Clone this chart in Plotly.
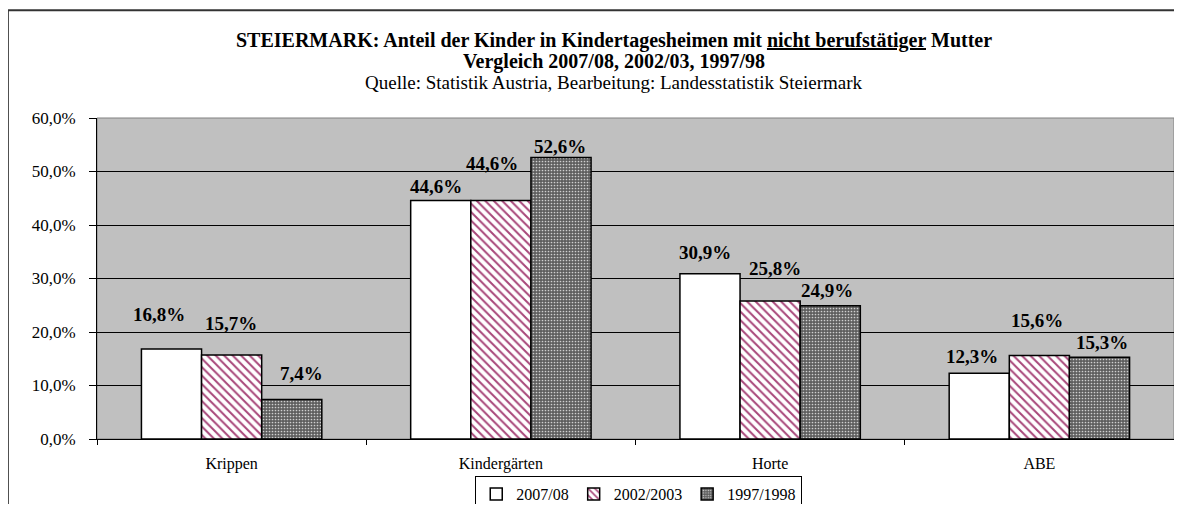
import plotly.graph_objects as go

# Categories and shares (%) per school year
categories = ["Krippen", "Kindergärten", "Horte", "ABE"]
series_names = ["2007/08", "2002/2003", "1997/1998"]
values_2007 = [16.8, 44.6, 30.9, 12.3]
values_2002 = [15.7, 44.6, 25.8, 15.6]
values_1997 = [7.4, 52.6, 24.9, 15.3]
y_ticks = [0, 10, 20, 30, 40, 50, 60]
y_tick_labels = [f"{v:.1f}".replace(".", ",") + "%" for v in y_ticks]

# label offsets in pixels (dx, dy) relative to the top of each bar, as placed in the original
label_offsets = [
    [(-12, 35), (-5, 14), (-5, 21), (-7, 17)],
    [(-1, 32), (-9, 37), (5, 32), (-2, 35)],
    [(10, 26), (-1, 11), (-3, 15), (2, 15)],
]

serif = "Liberation Serif, Times New Roman, serif"
bargap = 0.33

styles = [
    dict(color="white", pattern=dict(shape="")),
    dict(color="white", pattern=dict(shape="\\", fgcolor="#a8477a", bgcolor="white",
                                     size=6, solidity=0.33, fillmode="replace")),
    dict(color="#5e5e5e", pattern=dict(shape=".", fgcolor="#cfcfcf", bgcolor="#5e5e5e",
                                       size=3, solidity=0.25, fillmode="replace")),
]

all_values = [values_2007, values_2002, values_1997]

fig = go.Figure()
for name, vals, st in zip(series_names, all_values, styles):
    fig.add_trace(go.Bar(
        x=categories, y=vals, name=name,
        marker=dict(color=st["color"], pattern=st["pattern"],
                    line=dict(color="black", width=1.5)),
        hoverinfo="x+y",
    ))

# data labels
bar_w = (1 - bargap) / len(series_names)
for j, vals in enumerate(all_values):
    for i, v in enumerate(vals):
        dx, dy = label_offsets[j][i]
        fig.add_annotation(
            x=i + (j - 1) * bar_w, y=v, xref="x", yref="y",
            text="<b>" + f"{v:.1f}".replace(".", ",") + "%</b>",
            showarrow=False, xshift=dx, yshift=dy, yanchor="middle",
            font=dict(family=serif, size=19, color="black"),
        )

# titles
title_x = 0.48
fig.add_annotation(
    x=title_x, y=1.24, xref="paper", yref="paper", showarrow=False, yanchor="middle",
    text="<b>STEIERMARK: Anteil der Kinder in Kindertagesheimen mit <u>nicht berufstätiger</u> Mutter</b>",
    font=dict(family=serif, size=20, color="black"),
)
fig.add_annotation(
    x=title_x, y=1.176, xref="paper", yref="paper", showarrow=False, yanchor="middle",
    text="<b>Vergleich 2007/08, 2002/03, 1997/98</b>",
    font=dict(family=serif, size=20, color="black"),
)
fig.add_annotation(
    x=title_x, y=1.11, xref="paper", yref="paper", showarrow=False, yanchor="middle",
    text="Quelle: Statistik Austria, Bearbeitung: Landesstatistik Steiermark",
    font=dict(family=serif, size=19, color="black"),
)

# outer chart border (left and top edges are the only visible ones) and plot area frame
fig.add_shape(type="line", xref="paper", yref="paper",
              x0=-0.0826, x1=-0.0826, y0=-0.4, y1=1.336,
              line=dict(color="#222222", width=1.5))
fig.add_shape(type="line", xref="paper", yref="paper",
              x0=-0.0826, x1=1.2, y0=1.336, y1=1.336,
              line=dict(color="#333333", width=2))
fig.add_shape(type="rect", xref="paper", yref="paper", x0=0, x1=1, y0=0, y1=1,
              line=dict(color="#808080", width=1), layer="below")

# page body keeps an 8px margin, so the figure is sized to fit the window exactly
fig.update_layout(
    width=1166, height=496,
    margin=dict(l=89, r=0, t=110, b=65),
    paper_bgcolor="white", plot_bgcolor="#c0c0c0",
    barmode="group", bargap=bargap, bargroupgap=0,
    separators=",.",
    font=dict(family=serif, size=16, color="black"),
    showlegend=True,
    legend=dict(orientation="h", x=0.503, xanchor="center",
                yref="container", y=0.056, yanchor="top",
                bordercolor="black", borderwidth=1, bgcolor="white",
                font=dict(family=serif, size=16), itemwidth=30,
                tracegroupgap=0),
)
fig.update_xaxes(
    showline=True, linecolor="black", linewidth=1,
    ticks="outside", tickson="boundaries", ticklen=5, tickcolor="black",
    ticklabelstandoff=10,
    showgrid=False, tickfont=dict(family=serif, size=16),
)
fig.update_yaxes(
    range=[0, 60], tickvals=y_ticks, ticktext=y_tick_labels,
    showline=True, linecolor="black", linewidth=1,
    ticks="outside", ticklen=7, tickcolor="black", ticklabelstandoff=10,
    showgrid=True, gridcolor="black", gridwidth=1, zeroline=False,
    tickfont=dict(family=serif, size=17),
)

fig.write_html("out.html")
